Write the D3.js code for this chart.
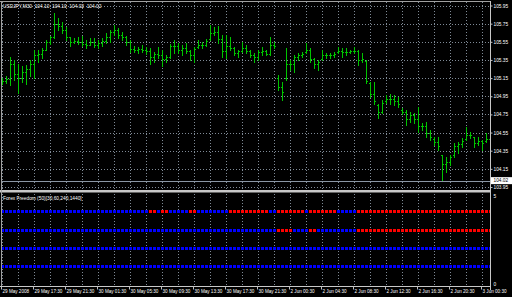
<!DOCTYPE html>
<html>
<head>
<meta charset="utf-8">
<script src="https://cdn.jsdelivr.net/npm/d3@7"></script>
<style>
html, body { margin: 0; padding: 0; background: #000; }
svg { display: block; }
text { font-family: "Liberation Sans", Arial, sans-serif; }
</style>
</head>
<body>
<svg id="chart" width="512" height="297"></svg>
<script>
'use strict';

// USDJPY M30 bars, 29 May 2008 13:30 .. 3 Jun 2008 00:30
let highs = [105.15,105.17,105.38,105.35,105.31,105.28,105.29,105.35,105.46,105.46,
    105.48,105.57,105.61,105.87,105.81,105.77,105.71,105.60,105.59,105.60,
    105.61,105.57,105.59,105.59,105.57,105.59,105.65,105.68,105.74,105.70,
    105.66,105.61,105.57,105.50,105.49,105.51,105.49,105.48,105.44,105.49,
    105.46,105.40,105.53,105.57,105.54,105.51,105.54,105.46,105.49,105.57,
    105.55,105.58,105.74,105.71,105.72,105.62,105.62,105.60,105.49,105.46,
    105.55,105.51,105.46,105.43,105.46,105.49,105.46,105.60,105.55,105.18,
    105.11,105.48,105.35,105.40,105.43,105.44,105.54,105.48,105.37,105.35,
    105.46,105.43,105.43,105.44,105.49,105.48,105.48,105.46,105.49,105.46,
    105.43,105.35,105.11,105.11,104.87,104.91,104.96,104.98,104.96,104.94,
    104.82,104.80,104.78,104.77,104.83,104.66,104.67,104.58,104.50,104.50,
    104.30,104.28,104.30,104.44,104.45,104.49,104.61,104.56,104.50,104.50,
    104.47,104.54,104.50];
let lows = [105.08,105.10,105.07,105.13,104.99,105.11,105.08,105.17,105.15,105.33,
    105.37,105.46,105.53,105.59,105.68,105.65,105.57,105.50,105.54,105.53,
    105.50,105.48,105.51,105.49,105.48,105.50,105.54,105.55,105.62,105.59,
    105.57,105.51,105.44,105.44,105.43,105.44,105.42,105.31,105.33,105.37,
    105.28,105.33,105.37,105.43,105.43,105.40,105.43,105.35,105.33,105.48,
    105.48,105.50,105.57,105.62,105.54,105.38,105.37,105.46,105.40,105.38,
    105.44,105.43,105.38,105.33,105.35,105.40,105.40,105.40,105.48,105.02,
    104.91,105.13,105.24,105.22,105.35,105.38,105.43,105.33,105.26,105.24,
    105.35,105.37,105.37,105.38,105.43,105.38,105.40,105.43,105.43,105.29,
    105.33,105.10,104.94,104.87,104.71,104.77,104.88,104.87,104.85,104.83,
    104.75,104.63,104.67,104.66,104.56,104.58,104.50,104.47,104.41,104.36,
    104.03,104.12,104.19,104.28,104.32,104.39,104.47,104.49,104.39,104.41,
    104.36,104.45,104.44];
let opens = [105.10,105.12,105.14,105.30,105.20,105.15,105.22,105.25,105.30,105.40,
    105.42,105.46,105.55,105.60,105.75,105.72,105.68,105.60,105.55,105.56,
    105.55,105.53,105.52,105.55,105.52,105.54,105.56,105.60,105.66,105.68,
    105.62,105.60,105.55,105.47,105.46,105.47,105.46,105.45,105.38,105.42,
    105.40,105.36,105.38,105.50,105.50,105.46,105.48,105.45,105.40,105.49,
    105.52,105.51,105.58,105.65,105.66,105.58,105.45,105.50,105.48,105.43,
    105.45,105.48,105.45,105.40,105.38,105.44,105.45,105.42,105.52,105.15,
    105.05,105.15,105.30,105.30,105.38,105.40,105.44,105.46,105.36,105.30,
    105.36,105.40,105.40,105.41,105.44,105.45,105.44,105.44,105.45,105.45,
    105.35,105.34,105.10,104.98,104.85,104.78,104.90,104.92,104.92,104.90,
    104.80,104.78,104.70,104.74,104.70,104.62,104.62,104.55,104.48,104.45,
    104.30,104.20,104.22,104.30,104.40,104.42,104.48,104.52,104.50,104.44,
    104.46,104.46,104.48];
let closes = [105.12,105.14,105.30,105.20,105.15,105.22,105.25,105.30,105.40,105.42,
    105.46,105.55,105.60,105.75,105.72,105.68,105.60,105.55,105.56,105.55,
    105.53,105.52,105.55,105.52,105.54,105.56,105.60,105.66,105.68,105.62,
    105.60,105.55,105.47,105.46,105.47,105.46,105.45,105.38,105.42,105.40,
    105.36,105.38,105.50,105.50,105.46,105.48,105.45,105.40,105.47,105.52,
    105.51,105.56,105.65,105.66,105.58,105.45,105.50,105.48,105.43,105.45,
    105.48,105.45,105.40,105.38,105.44,105.45,105.42,105.52,105.50,105.05,
    105.00,105.30,105.30,105.38,105.40,105.42,105.46,105.36,105.30,105.33,
    105.40,105.40,105.41,105.42,105.45,105.44,105.44,105.45,105.45,105.35,
    105.36,105.12,104.98,104.90,104.78,104.88,104.92,104.92,104.90,104.86,
    104.78,104.70,104.74,104.70,104.62,104.62,104.55,104.50,104.45,104.40,
    104.20,104.22,104.28,104.40,104.42,104.46,104.52,104.52,104.44,104.46,
    104.44,104.48,104.47];

// Forex Freedom rows (level 4 = M30 ... level 1 = D1); red runs as [firstBar, lastBar]
let rowLevels = [4, 3, 2, 1];
let redRuns = [
    [[37, 38], [40, 41], [47, 48], [57, 66], [69, 75], [77, 83], [89, 122]],
    [[69, 72], [77, 78], [89, 122]],
    [],
    []
];

let priceTicks = [105.95, 105.75, 105.55, 105.35, 105.15, 104.95, 104.75, 104.55, 104.35, 104.15, 103.95];
let bidPrice = 104.02;
let timeTickBars = [0, 8, 16, 24, 32, 40, 48, 56, 64, 72, 80, 88, 96, 104, 112, 120];
let timeLabels = ['29 May 2008', '29 May 17:30', '29 May 21:30', '30 May 01:30', '30 May 05:30',
    '30 May 09:30', '30 May 13:30', '30 May 17:30', '30 May 21:30', '2 Jun 00:30', '2 Jun 04:30',
    '2 Jun 08:30', '2 Jun 12:30', '2 Jun 16:30', '2 Jun 20:30', '3 Jun 00:30'];
let title = 'USDJPY,M30  104.10  104.10  104.02  104.02';
let indTitle = 'Forex Freedom (50)[30,60,240,1440]';

let svg = d3.select('#chart');
let gridColor = '#7f8a96';
let barColor = '#00c400';
let axisX = 490;
let mainTop = 2, mainBottom = 190;
let indTop = 193, indBottom = 286;

let x = d3.scaleLinear().domain([0, highs.length - 1]).range([2, 490]);
let y = d3.scaleLinear().domain([103.95, 105.95]).range([187, 5.5]);
let yi = d3.scaleLinear().domain([0, 5]).range([284.5, 193]);

svg.append('rect').attr('width', 512).attr('height', 297).attr('fill', '#000');

let defs = svg.append('defs');
defs.append('clipPath').attr('id', 'clipMain')
    .append('rect').attr('x', 2).attr('y', mainTop).attr('width', axisX - 2).attr('height', mainBottom - mainTop);
defs.append('clipPath').attr('id', 'clipInd')
    .append('rect').attr('x', 2).attr('y', indTop).attr('width', axisX - 2).attr('height', indBottom - indTop);

// grid: vertical every 4 bars through both panes, horizontal at price levels
let grid = svg.append('g').attr('stroke', gridColor).attr('stroke-dasharray', '1,2').attr('stroke-width', 1);
grid.selectAll('line.v')
    .data(d3.range(0, highs.length, 4))
    .enter().append('line')
    .attr('x1', d => x(d) + 0.5).attr('x2', d => x(d) + 0.5)
    .attr('y1', mainTop).attr('y2', indBottom);
grid.selectAll('line.h')
    .data(priceTicks)
    .enter().append('line')
    .attr('x1', 2).attr('x2', axisX)
    .attr('y1', d => Math.round(y(d)) + 0.5).attr('y2', d => Math.round(y(d)) + 0.5);

// bid line
svg.append('line')
    .attr('x1', 2).attr('x2', axisX)
    .attr('y1', Math.round(y(bidPrice)) + 0.5).attr('y2', Math.round(y(bidPrice)) + 0.5)
    .attr('stroke', '#8a96a4').attr('stroke-width', 1);

// OHLC bars
let py = v => Math.round(y(v)) + 0.5;
svg.append('g').attr('clip-path', 'url(#clipMain)')
    .selectAll('path')
    .data(highs.map((h, i) => i))
    .enter().append('path')
    .attr('d', i => {
        let cx = x(i) + 0.5;
        return 'M' + cx + ',' + (Math.round(y(highs[i]))) + 'V' + (Math.round(y(lows[i])) + 1) +
            'M' + (cx - 1.5) + ',' + py(opens[i]) + 'H' + cx +
            'M' + cx + ',' + py(closes[i]) + 'H' + (cx + 1.5);
    })
    .attr('fill', 'none')
    .attr('stroke', barColor)
    .attr('stroke-width', 1);

// pane separator and frame
svg.append('rect').attr('x', 0).attr('y', 190).attr('width', axisX).attr('height', 2.5).attr('fill', '#c8c8c8');
svg.append('line').attr('x1', 0).attr('x2', axisX).attr('y1', 1.5).attr('y2', 1.5)
    .attr('stroke', '#a0a0a0');
svg.append('line').attr('x1', 1.5).attr('x2', 1.5).attr('y1', 1).attr('y2', indBottom)
    .attr('stroke', '#a0a0a0');

// indicator dots
let dots = [];
rowLevels.forEach((lvl, r) => {
    highs.forEach((h, i) => {
        let red = redRuns[r].some(run => i >= run[0] && i <= run[1]);
        dots.push({ i: i, lvl: lvl, red: red });
    });
});
svg.append('g').attr('clip-path', 'url(#clipInd)')
    .selectAll('rect')
    .data(dots)
    .enter().append('rect')
    .attr('x', d => x(d.i) - 1)
    .attr('y', d => Math.round(yi(d.lvl)) - 1)
    .attr('width', 3)
    .attr('height', 3)
    .attr('fill', d => d.red ? '#ff0000' : '#0000ff');

// price axis
let pAxis = svg.append('g')
    .attr('transform', 'translate(' + (axisX + 0.5) + ',0)')
    .call(d3.axisRight(y).tickValues(priceTicks).tickSize(2).tickSizeOuter(0).tickFormat(d3.format('.2f')));
pAxis.select('.domain').remove();
pAxis.selectAll('line').attr('stroke', '#c0c0c0');
pAxis.selectAll('text').attr('fill', '#ffffff').attr('font-size', '4.8px')
    .attr('font-family', '"Liberation Sans", Arial, sans-serif').attr('x', 3);

svg.append('line').attr('x1', axisX + 0.5).attr('x2', axisX + 0.5).attr('y1', 1).attr('y2', 290)
    .attr('stroke', '#c8c8c8');

// bid label box
svg.append('rect').attr('x', axisX + 1).attr('y', y(bidPrice) - 3.5)
    .attr('width', 21).attr('height', 7).attr('fill', '#ffffff');
svg.append('text').attr('x', axisX + 3.5).attr('y', y(bidPrice))
    .attr('dy', '0.35em').attr('font-size', '4.8px').attr('fill', '#000')
    .text(d3.format('.2f')(bidPrice));

// indicator scale
svg.append('text').attr('x', axisX + 3.5).attr('y', yi(5) + 3.5).attr('dy', '0.35em')
    .attr('font-size', '4.8px').attr('fill', '#fff').text('5');
svg.append('text').attr('x', axisX + 3.5).attr('y', yi(0) - 0.5).attr('dy', '0.35em')
    .attr('font-size', '4.8px').attr('fill', '#fff').text('0');

// time axis
let tAxis = svg.append('g')
    .attr('transform', 'translate(0,' + (indBottom + 0.5) + ')')
    .call(d3.axisBottom(x).tickValues(timeTickBars).tickSize(3).tickSizeOuter(0)
        .tickFormat((d, k) => timeLabels[k]));
tAxis.select('.domain').attr('stroke', '#c8c8c8').attr('d', 'M0,0H' + (axisX + 0.5));
tAxis.selectAll('line').attr('stroke', '#c0c0c0').attr('transform', 'translate(-1,0)');
tAxis.selectAll('text').attr('fill', '#fff').attr('font-size', '4.6px')
    .attr('font-family', '"Liberation Sans", Arial, sans-serif')
    .attr('text-anchor', 'start').attr('x', 0).attr('y', 3).attr('dy', '0.71em');

// titles
svg.append('text').attr('x', 3).attr('y', 7.5).attr('font-size', '4.8px').attr('fill', '#fff')
    .attr('xml:space', 'preserve').style('white-space', 'pre').text(title);
svg.append('text').attr('x', 3).attr('y', 200).attr('font-size', '4.8px').attr('fill', '#fff')
    .text(indTitle);
</script>
</body>
</html>
